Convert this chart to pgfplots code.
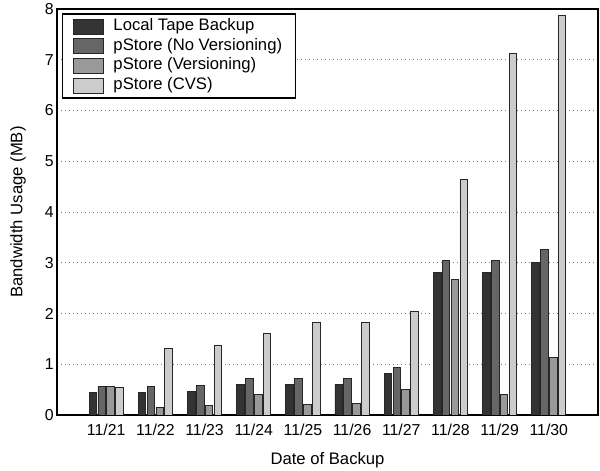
\documentclass[border=0pt]{standalone}
\usepackage{fontspec}
\setmainfont{Liberation Sans}
\usepackage{pgfplots}
\pgfplotsset{compat=1.18}
\definecolor{cA}{HTML}{333333}
\definecolor{cB}{HTML}{666666}
\definecolor{cC}{HTML}{999999}
\definecolor{cD}{HTML}{CCCCCC}
\begin{document}
\begin{tikzpicture}
\begin{axis}[
  scale only axis,
  width=324.6pt, height=243.6pt,
  xmin=0, xmax=11, ymin=0, ymax=8,
  xtick={1,...,10},
  xticklabels={11/21,11/22,11/23,11/24,11/25,11/26,11/27,11/28,11/29,11/30},
  ytick={0,...,8},
  major tick length=0pt,
  ymajorgrids,
  grid style={dotted, gray, line width=0.5pt},
  axis line style={line width=0.8pt},
  /pgf/number format/assume math mode=true,
  tick label style={font=\fontsize{9.5pt}{11pt}\selectfont},
  xticklabel style={anchor=center, yshift=-8.8pt},
  yticklabel style={anchor=east, inner sep=0pt, xshift=-1.8pt},
  label style={font=\fontsize{10pt}{12pt}\selectfont},
  xlabel={Date of Backup},
  ylabel={Bandwidth Usage (MB)},
  xlabel style={at={(rel axis cs:0.5,0)}, anchor=center, yshift=-27pt},
  ylabel style={at={(rel axis cs:0,0.5)}, anchor=center, yshift=23.4pt},
  ybar, bar width=0.155,
  every axis plot/.append style={draw=black!85, line width=0.5pt},
  legend style={at={(rel axis cs:0,1)}, xshift=3pt, yshift=-2.6pt, anchor=north west,
    draw=black, line width=0.8pt, font=\fontsize{10pt}{12pt}\selectfont,
    row sep=1.8pt, inner xsep=6pt, inner ysep=2.5pt,
    nodes={inner sep=0pt, text height=7.3pt, text depth=2.7pt}},
  legend cell align=left,
  legend image code/.code={\draw[#1, line width=0.5pt] (0pt,-4.5pt) rectangle (18pt,4.5pt); \path (24pt,0pt);},
]
\addplot[fill=cA, bar shift=-0.27] coordinates {(1,0.45) (2,0.45) (3,0.47) (4,0.60) (5,0.60) (6,0.60) (7,0.82) (8,2.80) (9,2.80) (10,3.01)};
\addplot[fill=cB, bar shift=-0.09] coordinates {(1,0.56) (2,0.56) (3,0.58) (4,0.72) (5,0.72) (6,0.72) (7,0.94) (8,3.04) (9,3.04) (10,3.26)};
\addplot[fill=cC, bar shift=0.09] coordinates {(1,0.56) (2,0.15) (3,0.18) (4,0.41) (5,0.21) (6,0.23) (7,0.50) (8,2.67) (9,0.41) (10,1.14)};
\addplot[fill=cD, bar shift=0.27] coordinates {(1,0.55) (2,1.31) (3,1.38) (4,1.60) (5,1.82) (6,1.82) (7,2.05) (8,4.64) (9,7.12) (10,7.88)};
\legend{Local Tape Backup, pStore (No Versioning)\hspace*{2pt}, pStore (Versioning), pStore (CVS)}
\end{axis}
\pgfresetboundingbox
\path (-34.2pt,-33.6pt) rectangle (325.8pt,249pt);
\end{tikzpicture}
\end{document}
